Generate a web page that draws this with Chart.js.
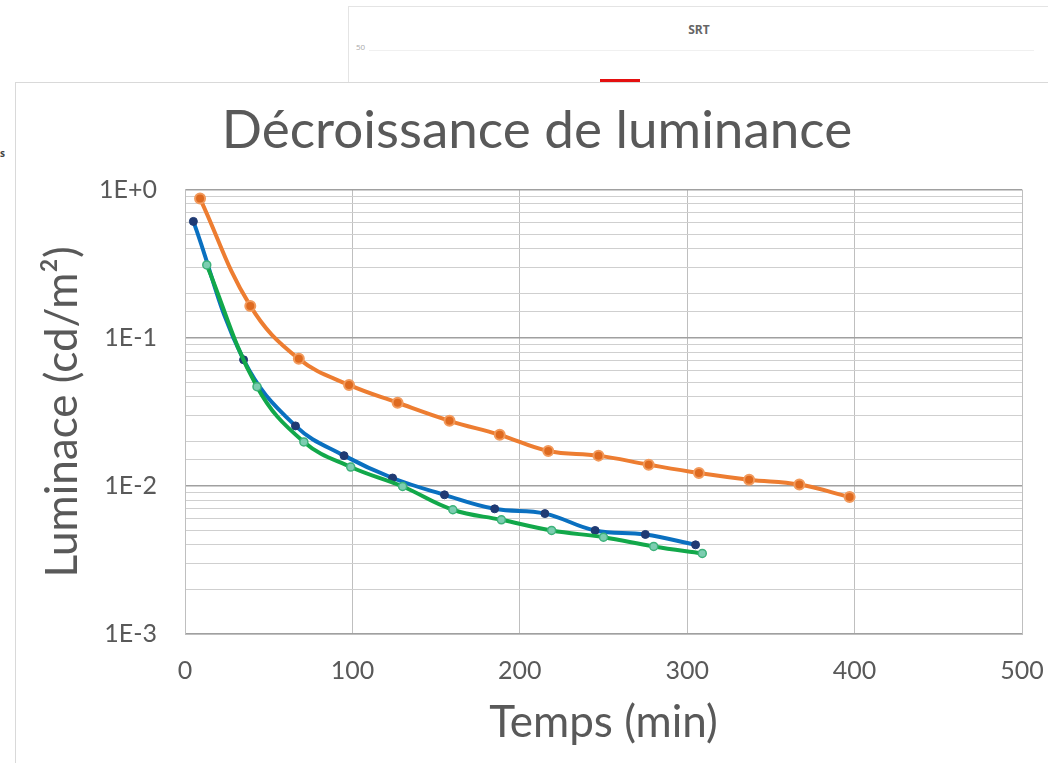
<!DOCTYPE html>
<html>
<head>
<meta charset="utf-8">
<script src="https://cdn.jsdelivr.net/npm/chart.js@4.4.1/dist/chart.umd.min.js"></script>
<style>
  body { margin: 0; background: #fff; width: 1048px; height: 763px; overflow: hidden; position: relative; font-family: Lato, sans-serif; }
  #srt { position: absolute; left: 348px; top: 6px; width: 700px; height: 90px; border: 1px solid #e4e4e4; background: #fff; }
  #srt .t { position: absolute; left: 0; width: 700px; top: 14px; text-align: center; font: bold 12px "Open Sans", sans-serif; color: #666; }
  #srt .n { position: absolute; left: 7px; top: 34px; font: 8px "Open Sans", sans-serif; color: #aaa; }
  #srt .g { position: absolute; left: 20px; top: 43px; width: 665px; height: 1px; background: #f0f0f0; }
  #srt .b { position: absolute; left: 251px; top: 72px; width: 40px; height: 6px; background: #e41010; }
  #side { position: absolute; left: 0; top: 146px; font: bold 10px "Open Sans", sans-serif; color: #444; }
  #card { position: absolute; left: 15px; top: 82px; width: 1033px; height: 681px; background: #fff; border-top: 1px solid #d9d9d9; border-left: 1px solid #d9d9d9; }
  #wrap { position: absolute; left: 0; top: 0; width: 1032px; height: 680px; }
</style>
</head>
<body>
<div id="srt"><div class="t">SRT</div><div class="n">50</div><div class="g"></div><div class="b"></div></div>
<div id="side">s</div>
<div id="card"><div id="wrap"><canvas id="chartLum"></canvas></div></div>
<script>
// temps (min) et luminance (cd/m²) par série
const tempsOrange = [9, 39, 68, 98, 127, 158, 188, 217, 247, 277, 307, 337, 367, 397]
const lumOrange = [0.87, 0.164, 0.072, 0.048, 0.0364, 0.0275, 0.0221, 0.0172, 0.016, 0.0139, 0.0122, 0.011, 0.0102, 0.0084]

const tempsBleu = [5, 35, 66, 95, 124, 155, 185, 215, 245, 275, 305]
const lumBleu = [0.61, 0.071, 0.0254, 0.016, 0.0113, 0.0087, 0.007, 0.0065, 0.005, 0.0047, 0.004]

const tempsVert = [13, 43, 71, 99, 130, 160, 189, 219, 250, 280, 309]
const lumVert = [0.31, 0.0467, 0.0198, 0.0134, 0.0099, 0.0069, 0.0059, 0.005, 0.0045, 0.0039, 0.0035]

const ticksX = [0, 100, 200, 300, 400, 500]
const decades = [1, 0.1, 0.01, 0.001]
const decadeLabels = ["1E+0", "1E-1", "1E-2", "1E-3"]

const grey = "#595959"

const toPoints = function(xs, ys){
    let pts = []
    xs.forEach((x, i) => {
        pts.push({x: x, y: ys[i]})
    })
    return pts
}

const isDecade = function(v){
    const l = Math.log10(v)
    return Math.abs(l - Math.round(l)) < 1e-9
}

const data = {
    datasets: [
        {
            label: "orange",
            data: toPoints(tempsOrange, lumOrange),
            borderColor: "#ED7D31",
            borderWidth: 4,
            pointRadius: 5,
            pointBackgroundColor: "#DE6A20",
            pointBorderColor: "#F29A5C",
            pointBorderWidth: 2,
            tension: 0.4,
            order: 3
        },
        {
            label: "bleu",
            data: toPoints(tempsBleu, lumBleu),
            borderColor: "#0A70C0",
            borderWidth: 4,
            pointRadius: 4,
            pointBackgroundColor: "#1F3A73",
            pointBorderColor: "#1F3A73",
            pointBorderWidth: 1,
            tension: 0.4,
            order: 2
        },
        {
            label: "vert",
            data: toPoints(tempsVert, lumVert),
            borderColor: "#12A84A",
            borderWidth: 4,
            pointRadius: 4,
            pointBackgroundColor: "#7CCDB0",
            pointBorderColor: "#3DB27A",
            pointBorderWidth: 1.5,
            tension: 0.4,
            order: 1
        }
    ]
}

const config = {
    type: "line",
    data: data,
    options: {
        responsive: true,
        maintainAspectRatio: false,
        animation: false,
        layout: { padding: { left: 36, right: 26, top: 0, bottom: 0 } },
        plugins: {
            legend: { display: false },
            tooltip: { enabled: false },
            title: {
                display: true,
                text: "Décroissance de luminance",
                color: grey,
                font: { family: "Lato", size: 53, weight: "normal" },
                padding: { top: 16, bottom: 27 }
            }
        },
        scales: {
            x: {
                type: "linear",
                min: ticksX[0],
                max: ticksX[ticksX.length - 1],
                afterBuildTicks: function(scale){
                    scale.ticks = ticksX.map(v => ({value: v}))
                },
                afterFit: function(scale){
                    scale.height = 129
                    scale.paddingLeft = 0
                    scale.paddingRight = 0
                },
                ticks: { color: grey, font: { family: "Lato", size: 25 }, padding: 22 },
                grid: { color: "#bfbfbf", drawTicks: false },
                border: { color: "#bfbfbf" },
                title: {
                    display: true,
                    text: "Temps (min)",
                    color: grey,
                    font: { family: "Lato", size: 44 },
                    padding: { top: 0, bottom: 14 }
                }
            },
            y: {
                type: "logarithmic",
                min: decades[3],
                max: decades[0],
                afterFit: function(scale){ scale.width = 133 },
                ticks: {
                    autoSkip: false,
                    color: grey,
                    font: { family: "Lato", size: 25 },
                    padding: 28,
                    callback: function(value){
                        const i = decades.findIndex(d => Math.abs(d - value) < d * 1e-6)
                        return i >= 0 ? decadeLabels[i] : ""
                    }
                },
                grid: {
                    drawTicks: false,
                    color: ctx => (ctx.tick && isDecade(ctx.tick.value)) ? "#a0a0a0" : "#cfcfcf",
                    lineWidth: ctx => (ctx.tick && isDecade(ctx.tick.value)) ? 1.5 : 1
                },
                border: { color: "#bfbfbf" },
                title: {
                    display: true,
                    text: "Luminace (cd/m²)",
                    color: grey,
                    font: { family: "Lato", size: 44 },
                    padding: { top: -16, bottom: 0 }
                }
            }
        }
    }
}

const myChart = new Chart(document.querySelector("#chartLum"), config)
</script>
</body>
</html>
